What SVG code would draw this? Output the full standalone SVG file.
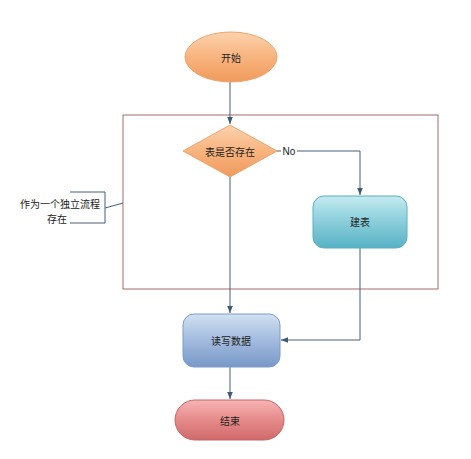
<svg xmlns="http://www.w3.org/2000/svg" width="471" height="459" viewBox="0 0 471 459">
<defs>
<linearGradient id="gOrange" x1="0" y1="0" x2="0" y2="1"><stop offset="0" stop-color="#fcd2ae"/><stop offset="0.5" stop-color="#f8b47e"/><stop offset="1" stop-color="#f09a5c"/></linearGradient>
<linearGradient id="gTeal" x1="0" y1="0" x2="0" y2="1"><stop offset="0" stop-color="#c4ebf0"/><stop offset="0.45" stop-color="#8fd0dc"/><stop offset="1" stop-color="#56b2c4"/></linearGradient>
<linearGradient id="gBlue" x1="0" y1="0" x2="0" y2="1"><stop offset="0" stop-color="#d2e0f2"/><stop offset="0.45" stop-color="#a6bee0"/><stop offset="1" stop-color="#7898c8"/></linearGradient>
<linearGradient id="gRed" x1="0" y1="0" x2="0" y2="1"><stop offset="0" stop-color="#f6b4b4"/><stop offset="0.5" stop-color="#e68a8a"/><stop offset="1" stop-color="#d06a6a"/></linearGradient>
<marker id="arr" viewBox="0 0 10 10" refX="10" refY="5" markerWidth="7" markerHeight="7" orient="auto"><path d="M0,1 L10,5 L0,9 z" fill="#3d5a78"/></marker>
</defs>
<style>
.lbl{font-family:"Noto Sans CJK SC","Liberation Sans",sans-serif;font-size:10px;fill:#222;text-anchor:middle;dominant-baseline:central}
.con{fill:none;stroke:#44607c;stroke-width:1}
</style>
<rect width="471" height="459" fill="#ffffff"/>
<g id="container"><rect x="123" y="115" width="315" height="174" fill="none" stroke="#a86868" stroke-width="1"/></g>
<g id="connectors">
<path class="con" d="M230,82 V124" marker-end="url(#arr)"/>
<path class="con" d="M276,151 H360 V195" marker-end="url(#arr)"/>
<path class="con" d="M230,177 V313" marker-end="url(#arr)"/>
<path class="con" d="M360,248 V340 H281" marker-end="url(#arr)"/>
<path class="con" d="M230,367 V399" marker-end="url(#arr)"/>
<path class="con" stroke="#777" d="M70,192 H105 V223 H70 M105,208 L123,203"/>
</g>
<g id="start"><ellipse cx="231" cy="57" rx="46" ry="25" fill="url(#gOrange)" stroke="#eca46c" stroke-width="1"/><text class="lbl" x="231" y="57">开始</text></g>
<g id="decision"><polygon points="230,125 277,151 230,177 183,151" fill="url(#gOrange)" stroke="#eca46c" stroke-width="1"/><text class="lbl" x="230" y="151">表是否存在</text></g>
<g id="no-label"><rect x="281" y="144" width="16" height="13" fill="#fff"/><text class="lbl" x="289" y="151" style="font-family:'Liberation Sans',sans-serif">No</text></g>
<g id="create"><rect x="313" y="196" width="94" height="52" rx="11" fill="url(#gTeal)" stroke="#5ab0c0" stroke-width="1"/><text class="lbl" x="360" y="221">建表</text></g>
<g id="rw"><rect x="183" y="314" width="97" height="53" rx="11" fill="url(#gBlue)" stroke="#7c9cc8" stroke-width="1"/><text class="lbl" x="231" y="340">读写数据</text></g>
<g id="end"><rect x="175" y="400" width="109" height="40" rx="20" fill="url(#gRed)" stroke="#c86464" stroke-width="1"/><text class="lbl" x="230" y="420">结束</text></g>
<g id="note"><text class="lbl" x="60" y="203">作为一个独立流程</text><text class="lbl" x="57" y="218">存在</text></g>
</svg>
